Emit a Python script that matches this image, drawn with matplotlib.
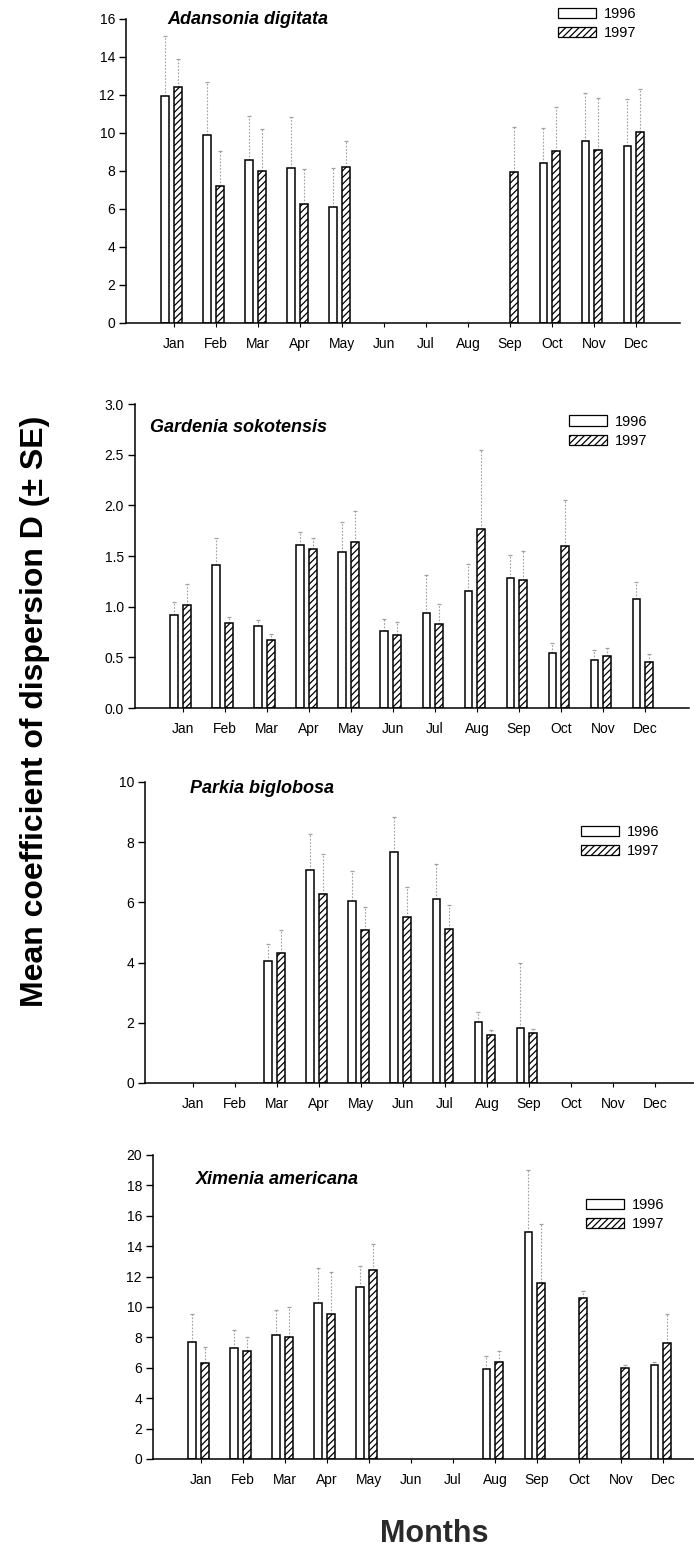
import numpy as np
import matplotlib
matplotlib.use('Agg')
import matplotlib.pyplot as plt
from matplotlib.patches import Patch
from matplotlib.ticker import FormatStrFormatter

plt.rcParams['font.family'] = ['Liberation Sans', 'DejaVu Sans']
plt.rcParams['hatch.linewidth'] = 0.9

nan = np.nan
months = ['Jan', 'Feb', 'Mar', 'Apr', 'May', 'Jun', 'Jul', 'Aug', 'Sep', 'Oct', 'Nov', 'Dec']

# Adansonia digitata
adansonia_1996 = [11.96, 9.90, 8.58, 8.18, 6.11, nan, nan, nan, nan, 8.41, 9.60, 9.29]
adansonia_1996_se = [3.14, 2.80, 2.32, 2.65, 2.07, nan, nan, nan, nan, 1.86, 2.53, 2.48]
adansonia_1997 = [12.40, 7.23, 8.00, 6.25, 8.22, nan, nan, nan, 7.96, 9.05, 9.08, 10.04]
adansonia_1997_se = [1.48, 1.81, 2.20, 1.86, 1.38, nan, nan, nan, 2.34, 2.30, 2.75, 2.30]

# Gardenia sokotensis
gardenia_1996 = [0.915, 1.415, 0.81, 1.61, 1.54, 0.76, 0.94, 1.15, 1.28, 0.54, 0.475, 1.08]
gardenia_1996_se = [0.135, 0.265, 0.06, 0.13, 0.30, 0.12, 0.37, 0.27, 0.23, 0.10, 0.095, 0.16]
gardenia_1997 = [1.02, 0.84, 0.67, 1.57, 1.64, 0.72, 0.83, 1.77, 1.26, 1.60, 0.51, 0.45]
gardenia_1997_se = [0.20, 0.06, 0.06, 0.11, 0.30, 0.13, 0.20, 0.78, 0.29, 0.45, 0.08, 0.08]

# Parkia biglobosa
parkia_1996 = [nan, nan, 4.06, 7.08, 6.06, 7.67, 6.11, 2.02, 1.84, nan, nan, nan]
parkia_1996_se = [nan, nan, 0.57, 1.18, 0.99, 1.18, 1.15, 0.35, 2.14, nan, nan, nan]
parkia_1997 = [nan, nan, 4.33, 6.29, 5.07, 5.51, 5.11, 1.58, 1.65, nan, nan, nan]
parkia_1997_se = [nan, nan, 0.74, 1.32, 0.78, 0.99, 0.80, 0.19, 0.16, nan, nan, nan]

# Ximenia americana
ximenia_1996 = [7.71, 7.32, 8.17, 10.28, 11.31, nan, nan, 5.89, 14.96, nan, nan, 6.21]
ximenia_1996_se = [1.86, 1.18, 1.64, 2.30, 1.36, nan, nan, 0.86, 4.05, nan, nan, 0.20]
ximenia_1997 = [6.29, 7.12, 8.00, 9.56, 12.45, nan, nan, 6.37, 11.61, 10.60, 6.00, 7.63]
ximenia_1997_se = [1.07, 0.90, 2.03, 2.74, 1.71, nan, nan, 0.71, 3.86, 0.44, 0.20, 1.91]

W, H = 694, 1549
fig = plt.figure(figsize=(W / 100, H / 100), dpi=100)

# one entry per species, positions in pixels from top-left
panels = [
    dict(name='Adansonia digitata', a=adansonia_1996, a_se=adansonia_1996_se,
         b=adansonia_1997, b_se=adansonia_1997_se, left=126, bottom=323, height=304,
         ymax=16, ystep=2, fmt='%d', title_xy=(0.074, 0.997), leg_xy=(0.78, 1.04)),
    dict(name='Gardenia sokotensis', a=gardenia_1996, a_se=gardenia_1996_se,
         b=gardenia_1997, b_se=gardenia_1997_se, left=135, bottom=708, height=304,
         ymax=3.0, ystep=0.5, fmt='%.1f', title_xy=(0.027, 0.924), leg_xy=(0.783, 0.965)),
    dict(name='Parkia biglobosa', a=parkia_1996, a_se=parkia_1996_se,
         b=parkia_1997, b_se=parkia_1997_se, left=145, bottom=1083, height=301,
         ymax=10, ystep=2, fmt='%d', title_xy=(0.081, 0.977), leg_xy=(0.787, 0.857)),
    dict(name='Ximenia americana', a=ximenia_1996, a_se=ximenia_1996_se,
         b=ximenia_1997, b_se=ximenia_1997_se, left=153, bottom=1459, height=304,
         ymax=20, ystep=2, fmt='%d', title_xy=(0.078, 0.918), leg_xy=(0.782, 0.859)),
]

x = np.arange(len(months))
bw = 0.19
hatch = '/////'


def draw_se(ax, xpos, mean, se):
    mean = np.asarray(mean, float)
    se = np.asarray(se, float)
    eb = ax.errorbar(xpos, mean, yerr=[np.zeros_like(se), se], fmt='none',
                     ecolor='#a0a0a0', elinewidth=0.8, capsize=1.6, capthick=0.9, zorder=1)
    eb[2][0].set_linestyle((0, (1.5, 1.5)))
    for cap in eb[1]:
        cap.set_color('#555555')


for p in panels:
    ax = fig.add_axes([p['left'] / W, 1 - p['bottom'] / H, 554 / W, p['height'] / H])

    draw_se(ax, x - 0.2, p['a'], p['a_se'])
    draw_se(ax, x + 0.1, p['b'], p['b_se'])
    ax.bar(x - 0.2, p['a'], width=bw, color='white', edgecolor='black', linewidth=1.1, zorder=2)
    ax.bar(x + 0.1, p['b'], width=bw, color='white', edgecolor='black', linewidth=1.1,
           hatch=hatch, zorder=2)

    ax.set_xlim(-1.14, 12.05)
    ax.set_ylim(0, p['ymax'])
    ax.set_xticks(x)
    ax.set_xticklabels(months)
    ax.set_yticks(np.arange(0, p['ymax'] + 1e-9, p['ystep']))
    ax.yaxis.set_major_formatter(FormatStrFormatter(p['fmt']))

    for s in ['top', 'right']:
        ax.spines[s].set_visible(False)
    for s in ['left', 'bottom']:
        ax.spines[s].set_linewidth(1.1)
    ax.tick_params(axis='y', direction='out', length=5, width=1, labelsize=10, pad=3)
    ax.tick_params(axis='x', direction='out', length=3, width=0.8, labelsize=10, pad=7)

    ax.text(p['title_xy'][0], p['title_xy'][1], p['name'], transform=ax.transAxes,
            ha='left', va='center', fontsize=13, fontweight='bold', fontstyle='italic')

    handles = [Patch(facecolor='white', edgecolor='black', linewidth=0.9, label='1996'),
               Patch(facecolor='white', edgecolor='black', linewidth=0.9, hatch=hatch, label='1997')]
    ax.legend(handles=handles, loc='upper left', bbox_to_anchor=p['leg_xy'], frameon=False,
              fontsize=10.5, handlelength=2.6, handleheight=0.7, handletextpad=0.55,
              labelspacing=0.35, borderpad=0, borderaxespad=0)

fig.text(35 / W, 1 - 711 / H, 'Mean coefficient of dispersion D (± SE)', rotation=90,
         ha='center', va='center', fontsize=23, fontweight='bold')
fig.text(434 / W, 1 - 1534 / H, 'Months', ha='center', va='center', fontsize=22,
         fontweight='bold', color='#2a2a2a')

fig.savefig('out.png', dpi=100)
